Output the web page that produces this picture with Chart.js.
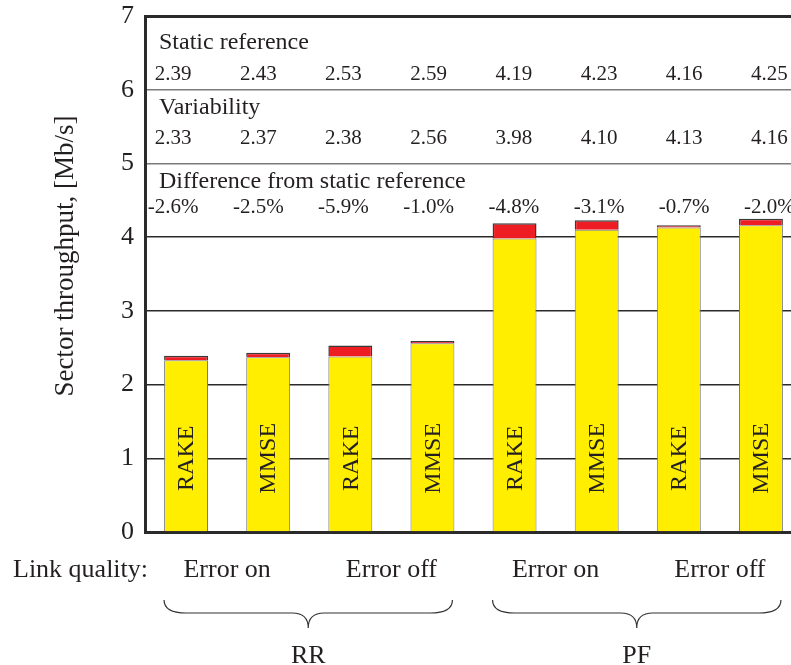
<!DOCTYPE html>
<html>
<head>
<meta charset="utf-8">
<script src="https://cdn.jsdelivr.net/npm/chart.js@4.4.0/dist/chart.umd.min.js"></script>
<style>
  html, body { margin: 0; padding: 0; background: #fff; overflow: hidden; }
  #wrap { width: 802px; height: 665px; }
</style>
</head>
<body>
<div id="wrap"><canvas id="chart"></canvas></div>
<script>
// ----------------- DATA -----------------
const receivers = ["RAKE", "MMSE", "RAKE", "MMSE", "RAKE", "MMSE", "RAKE", "MMSE"];
const linkQuality = ["Error on", "Error off", "Error on", "Error off"];
const schedulers = ["RR", "PF"];
const staticRef = [2.39, 2.43, 2.53, 2.59, 4.19, 4.23, 4.16, 4.25];
const variability = [2.33, 2.37, 2.38, 2.56, 3.98, 4.10, 4.13, 4.16];
const diffLabels = ["-2.6%", "-2.5%", "-5.9%", "-1.0%", "-4.8%", "-3.1%", "-0.7%", "-2.0%"];
const yTicks = [0, 1, 2, 3, 4, 5, 6, 7];

const SERIF = "'Liberation Serif', 'Times New Roman', serif";
const INK = "#231f20";

// ----------------- ANNOTATIONS -----------------
const annotate = {
    id: "annotate",
    afterDatasetsDraw(chart) {
        const { ctx, chartArea } = chart;
        const x = chart.scales.x;
        const y = chart.scales.y;
        ctx.save();
        ctx.fillStyle = INK;

        // bar names, rotated inside the bars
        ctx.font = "24px " + SERIF;
        ctx.textAlign = "center";
        ctx.textBaseline = "middle";
        receivers.forEach((name, i) => {
            ctx.save();
            ctx.translate(x.getPixelForValue(i) + 1, y.getPixelForValue(1));
            ctx.rotate(-Math.PI / 2);
            ctx.fillText(name, 0, 0);
            ctx.restore();
        });

        // table rows at top of plot
        ctx.textBaseline = "alphabetic";
        ctx.textAlign = "left";
        ctx.font = "24px " + SERIF;
        ctx.fillText("Static reference", chartArea.left + 14, y.getPixelForValue(6.55));
        ctx.fillText("Variability", chartArea.left + 14, y.getPixelForValue(5.67));
        ctx.fillText("Difference from static reference", chartArea.left + 14, y.getPixelForValue(4.66));

        ctx.textAlign = "center";
        ctx.font = "21px " + SERIF;
        const colX = i => x.getPixelForValue(i) - 13 + 3.07 * i;
        staticRef.forEach((v, i) => ctx.fillText(v.toFixed(2), colX(i), y.getPixelForValue(6.13)));
        variability.forEach((v, i) => ctx.fillText(v.toFixed(2), colX(i), y.getPixelForValue(5.27)));
        diffLabels.forEach((t, i) => ctx.fillText(t, colX(i), y.getPixelForValue(4.33)));

        // link quality row
        const rowY = chartArea.bottom + 45;
        ctx.font = "26px " + SERIF;
        ctx.textAlign = "left";
        ctx.fillText("Link quality:", 13, rowY);
        ctx.textAlign = "center";
        linkQuality.forEach((t, k) => {
            const cx = (x.getPixelForValue(2 * k) + x.getPixelForValue(2 * k + 1)) / 2;
            ctx.fillText(t, cx, rowY);
        });

        // braces + scheduler names
        ctx.strokeStyle = "#333";
        ctx.lineWidth = 1.2;
        schedulers.forEach((name, k) => {
            const x0 = x.getPixelForValue(4 * k) - 22;
            const x1 = x.getPixelForValue(4 * k + 3) + 20;
            const xm = (x0 + x1) / 2;
            const top = chartArea.bottom + 68;
            const mid = chartArea.bottom + 81;
            const tip = chartArea.bottom + 96;
            ctx.beginPath();
            ctx.moveTo(x0, top);
            ctx.quadraticCurveTo(x0, mid, x0 + 22, mid);
            ctx.lineTo(xm - 16, mid);
            ctx.quadraticCurveTo(xm, mid, xm, tip);
            ctx.quadraticCurveTo(xm, mid, xm + 16, mid);
            ctx.lineTo(x1 - 22, mid);
            ctx.quadraticCurveTo(x1, mid, x1, top);
            ctx.stroke();
            ctx.fillText(name, xm, chartArea.bottom + 131);
        });

        // y axis title
        ctx.save();
        ctx.font = "27px " + SERIF;
        ctx.textBaseline = "middle";
        ctx.translate(66, 256);
        ctx.rotate(-Math.PI / 2);
        ctx.fillText("Sector throughput, [Mb/s]", 0, 0);
        ctx.restore();

        ctx.restore();
    }
};

// ----------------- CHART SETUP -----------------
const ctx = document.getElementById("chart").getContext("2d");

new Chart(ctx, {
    type: "bar",
    data: {
        labels: receivers,
        datasets: [{
            label: "Static reference",
            data: staticRef.map((v, i) => [variability[i], v]),
            backgroundColor: "#ee1d24",
            borderColor: "#3a3a3a",
            borderWidth: { top: 1.5, left: 1.5, right: 1.5, bottom: 0 },
            borderSkipped: false,
            grouped: false,
            barPercentage: 0.535,
            categoryPercentage: 1
        }, {
            label: "Variability",
            data: variability,
            backgroundColor: "#ffee00",
            borderColor: "#777",
            borderWidth: 1,
            grouped: false,
            barPercentage: 0.535,
            categoryPercentage: 1
        }]
    },
    options: {
        responsive: true,
        maintainAspectRatio: false,
        animation: false,
        layout: { padding: { top: 16, bottom: 133, left: 0, right: 0 } },
        plugins: { legend: { display: false }, tooltip: { enabled: false } },
        scales: {
            x: {
                ticks: { display: false },
                grid: { display: false },
                border: { display: true, color: "#2a2a2a", width: 3 },
                afterFit: s => { s.height = 0; s.paddingLeft = 0; s.paddingRight = 0; }
            },
            y: {
                min: 0,
                max: 7,
                afterBuildTicks: s => { s.ticks = yTicks.map(v => ({ value: v })); },
                afterFit: s => { s.width = 145; s.paddingTop = 0; s.paddingBottom = 0; },
                ticks: {
                    color: INK,
                    padding: 11,
                    font: { family: SERIF, size: 26 }
                },
                grid: {
                    drawTicks: false,
                    color: c => (c.tick.value === 5 || c.tick.value === 6) ? "#7a7a7a" : "#2a2a2a",
                    lineWidth: c => c.tick.value === 7 ? 3 : 1.4
                },
                border: { display: true, color: "#2a2a2a", width: 3 }
            }
        }
    },
    plugins: [annotate]
});
</script>
</body>
</html>
